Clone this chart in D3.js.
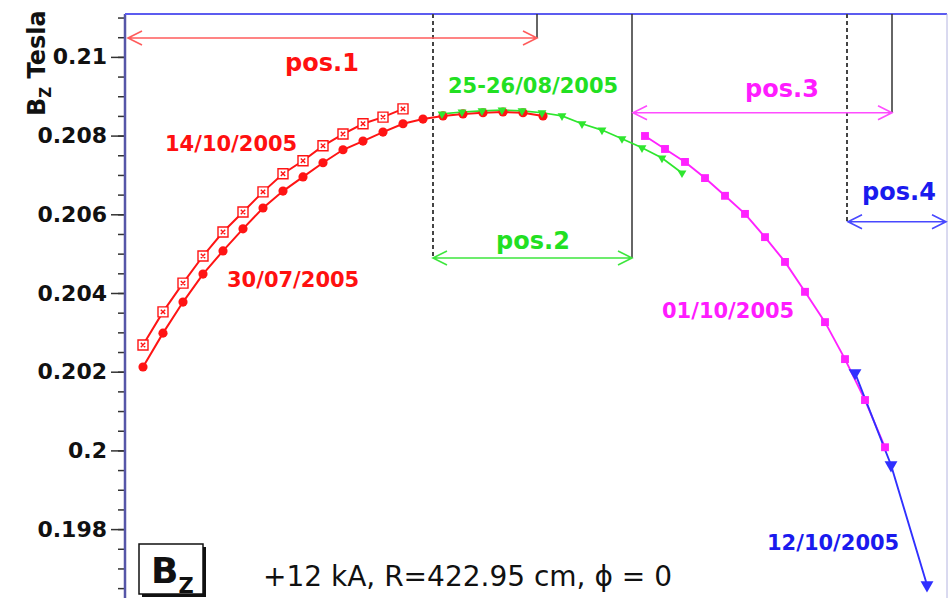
<!DOCTYPE html>
<html>
<head>
<meta charset="utf-8">
<script src="https://cdn.jsdelivr.net/npm/d3@7"></script>
<style>
  body { margin: 0; background: #fff; }
  svg { display: block; font-family: "DejaVu Sans", sans-serif; }
</style>
</head>
<body>
<div id="chart"></div>
<script>
// scan position (arbitrary units along the probe path) and measured Bz in Tesla
const red0730X = [0.9, 1.9, 2.9, 3.9, 4.9, 5.9, 6.9, 7.9, 8.9, 9.9, 10.9, 11.9, 12.9, 13.9, 14.9, 15.9, 16.9, 17.9, 18.9, 19.9, 20.9];
const red0730Bz = [0.20212, 0.20298, 0.20377, 0.20448, 0.20507, 0.20563, 0.20616, 0.20659, 0.20695, 0.20731, 0.20764,
                   0.20786, 0.20809, 0.2083, 0.20842, 0.2085, 0.20855, 0.20858, 0.2086, 0.20858, 0.2085];

const red1410X = [0.9, 1.9, 2.9, 3.9, 4.9, 5.9, 6.9, 7.9, 8.9, 9.9, 10.9, 11.9, 12.9, 13.9];
const red1410Bz = [0.20268, 0.20352, 0.20425, 0.20494, 0.20555, 0.20606, 0.20657, 0.20703, 0.20736, 0.20774,
                   0.20804, 0.2083, 0.20847, 0.20868];

const green0826X = [15.85, 16.85, 17.85, 18.85, 19.85, 20.85, 21.85, 22.85, 23.85, 24.85, 25.85, 26.85, 27.85];
const green0826Bz = [0.20855, 0.2086, 0.20863, 0.20865, 0.20863, 0.20858, 0.2085, 0.2083, 0.20814, 0.20792,
                     0.20769, 0.20743, 0.20705];

const mag1001X = [26, 27, 28, 29, 30, 31, 32, 33, 34, 35, 36, 37, 38];
const mag1001Bz = [0.20799, 0.20766, 0.20733, 0.20692, 0.20647, 0.20601, 0.20542, 0.20479, 0.20403, 0.20326,
                   0.20232, 0.20128, 0.20008];

const blue1210X = [36.5, 38.3, 40.1];
const blue1210Bz = [0.20197, 0.19963, 0.19658];

const yTickValues = [0.198, 0.2, 0.202, 0.204, 0.206, 0.208, 0.21];
const yTickLabels = ['0.198', '0.2', '0.202', '0.204', '0.206', '0.208', '0.21'];

// probe positions: span along the scan and the Bz level where the arrow sits
const posNames = ['pos.1', 'pos.2', 'pos.3', 'pos.4'];
const posStart = [0.15, 15.4, 25.4, 36.15];
const posEnd = [20.6, 25.35, 38.35, 41.05];
const posLevel = [0.21048, 0.20489, 0.20858, 0.20581];

// vertical boundary lines between positions
const edgeX = [15.4, 20.6, 25.35, 36.1, 38.35];
const edgeLevel = [0.20489, 0.21048, 0.20489, 0.20581, 0.20858];
const edgeDashed = [true, false, false, true, false];

const W = 948, H = 598;
const plot = { left: 125, right: 947, top: 14, bottom: 620 };

const x = d3.scaleLinear().domain([0, 41.1]).range([plot.left, plot.right]);
const y = d3.scaleLinear().domain([0.19569, 0.21109]).range([plot.bottom, plot.top]);

const svg = d3.select('#chart').append('svg')
  .attr('width', W)
  .attr('height', H);

svg.append('rect').attr('width', W).attr('height', H).attr('fill', '#fff');

svg.append('defs').append('clipPath').attr('id', 'plotClip')
  .append('rect')
  .attr('x', plot.left).attr('y', plot.top)
  .attr('width', plot.right - plot.left).attr('height', plot.bottom - plot.top);

// --- axis ---
const minorTicks = d3.range(0.196, 0.2111, 0.0005);

const minorAxis = svg.append('g')
  .attr('transform', `translate(${plot.left},0)`)
  .call(d3.axisLeft(y).tickValues(minorTicks).tickSize(7).tickFormat(''));
minorAxis.select('.domain').remove();
minorAxis.selectAll('line').attr('stroke', '#333').attr('stroke-width', 1.5);

const majorAxis = svg.append('g')
  .attr('transform', `translate(${plot.left},0)`)
  .call(d3.axisLeft(y).tickValues(yTickValues).tickSize(14).tickPadding(4)
    .tickFormat((d, i) => yTickLabels[i]));
majorAxis.select('.domain').remove();
majorAxis.selectAll('line').attr('stroke', '#333').attr('stroke-width', 1.5);
majorAxis.selectAll('text')
  .attr('fill', '#111')
  .style('font-size', '22px')
  .style('font-weight', 'bold')
  .style('font-family', '"DejaVu Sans", sans-serif');

// frame
svg.append('line')
  .attr('x1', plot.left).attr('x2', plot.left)
  .attr('y1', plot.top).attr('y2', H)
  .attr('stroke', '#5656a8').attr('stroke-width', 2.5);
svg.append('line')
  .attr('x1', plot.left).attr('x2', plot.right)
  .attr('y1', plot.top).attr('y2', plot.top)
  .attr('stroke', '#5c5cf0').attr('stroke-width', 2);
svg.append('line')
  .attr('x1', plot.right).attr('x2', plot.right)
  .attr('y1', plot.top).attr('y2', H)
  .attr('stroke', '#b4b4e0').attr('stroke-width', 1);

// axis title
const yTitle = svg.append('text')
  .attr('transform', 'translate(45,116) rotate(-90)')
  .attr('fill', '#111')
  .style('font-size', '24px')
  .style('font-weight', 'bold');
yTitle.append('tspan').text('B');
yTitle.append('tspan').attr('dy', 6).style('font-size', '15px').text('Z');
yTitle.append('tspan').attr('dy', -6).text(' Tesla');

// --- position boundaries and arrows ---
const guides = svg.append('g');

edgeX.forEach((ex, i) => {
  guides.append('line')
    .attr('x1', x(ex)).attr('x2', x(ex))
    .attr('y1', plot.top).attr('y2', y(edgeLevel[i]))
    .attr('stroke', edgeDashed[i] ? '#444' : '#333')
    .attr('stroke-width', edgeDashed[i] ? 2 : 1.5)
    .attr('stroke-dasharray', edgeDashed[i] ? '4,3' : null);
});

const posColors = ['#ff5c5c', '#3ee63e', '#ff4cff', '#4848ff'];
const posTextColors = ['#ff1010', '#22e022', '#ff1cff', '#1a1aee'];
const headLen = 14, headHalf = 7;

posNames.forEach((name, i) => {
  const x0 = x(posStart[i]), x1 = x(posEnd[i]), yl = y(posLevel[i]);
  guides.append('path')
    .attr('d', `M${x0},${yl}H${x1}` +
      `M${x0 + headLen},${yl - headHalf}L${x0},${yl}L${x0 + headLen},${yl + headHalf}` +
      `M${x1 - headLen},${yl - headHalf}L${x1},${yl}L${x1 - headLen},${yl + headHalf}`)
    .attr('fill', 'none')
    .attr('stroke', posColors[i])
    .attr('stroke-width', 1.6);
});

// label placement for the position names
const posLabelLayout = [
  { x: 322, y: 71 },
  { x: 533, y: 249 },
  { x: 782, y: 97 },
  { x: 899, y: 200 }
];
posNames.forEach((name, i) => {
  guides.append('text')
    .attr('x', posLabelLayout[i].x)
    .attr('y', posLabelLayout[i].y)
    .attr('text-anchor', 'middle')
    .attr('fill', posTextColors[i])
    .style('font-size', '24px')
    .style('font-weight', 'bold')
    .text(name);
});

// --- measurement series ---
const series = [
  { name: '30/07/2005', xs: red0730X, vs: red0730Bz, color: '#ff1414', marker: 'circle', width: 2 },
  { name: '14/10/2005', xs: red1410X, vs: red1410Bz, color: '#ff1414', marker: 'openSquare', width: 2 },
  { name: '25-26/08/2005', xs: green0826X, vs: green0826Bz, color: '#2ee62e', marker: 'smallTriangle', width: 1.7 },
  { name: '01/10/2005', xs: mag1001X, vs: mag1001Bz, color: '#ff22ff', marker: 'square', width: 1.9 },
  { name: '12/10/2005', xs: blue1210X, vs: blue1210Bz, color: '#3030ff', marker: 'triangle', width: 1.9 }
];

const line = d3.line()
  .x(d => x(d[0]))
  .y(d => y(d[1]));

const dataLayer = svg.append('g').attr('clip-path', 'url(#plotClip)');

series.forEach(s => {
  dataLayer.append('path')
    .datum(d3.zip(s.xs, s.vs))
    .attr('d', line)
    .attr('fill', 'none')
    .attr('stroke', s.color)
    .attr('stroke-width', s.width);
});

function markerShape(type) {
  if (type === 'circle') return d3.symbol(d3.symbolCircle, 66)();
  if (type === 'square') return d3.symbol(d3.symbolSquare, 62)();
  if (type === 'smallTriangle') return d3.symbol(d3.symbolTriangle, 34)();
  if (type === 'triangle') return d3.symbol(d3.symbolTriangle, 72)();
  // open square with a small cross inside
  return 'M-5,-5h10v10h-10z M-2.2,-2.2L2.2,2.2 M2.2,-2.2L-2.2,2.2';
}

series.forEach(s => {
  const open = s.marker === 'openSquare';
  const flip = s.marker === 'smallTriangle' || s.marker === 'triangle';
  dataLayer.append('g').selectAll('path')
    .data(d3.zip(s.xs, s.vs))
    .join('path')
    .attr('transform', d => `translate(${x(d[0])},${y(d[1])})` + (flip ? ' rotate(180)' : ''))
    .attr('d', markerShape(s.marker))
    .attr('fill', open ? '#fff' : s.color)
    .attr('stroke', open ? s.color : 'none')
    .attr('stroke-width', open ? 1.4 : 0);
});

// date labels next to their curves
const dateLabelLayout = {
  '14/10/2005': { x: 165, y: 151 },
  '30/07/2005': { x: 227, y: 287 },
  '25-26/08/2005': { x: 448, y: 93 },
  '01/10/2005': { x: 662, y: 318 },
  '12/10/2005': { x: 767, y: 550 }
};
const labelColors = {
  '14/10/2005': '#ff1010', '30/07/2005': '#ff1010', '25-26/08/2005': '#22e022',
  '01/10/2005': '#ff1cff', '12/10/2005': '#1a1aee'
};
series.forEach(s => {
  const pos = dateLabelLayout[s.name];
  svg.append('text')
    .attr('x', pos.x)
    .attr('y', pos.y)
    .attr('fill', labelColors[s.name])
    .style('font-size', '21px')
    .style('font-weight', 'bold')
    .text(s.name);
});

// --- Bz box and run conditions ---
const box = svg.append('g');
box.append('rect')
  .attr('x', 142).attr('y', 547)
  .attr('width', 64).attr('height', 50)
  .attr('fill', '#111');
box.append('rect')
  .attr('x', 139).attr('y', 544)
  .attr('width', 64).attr('height', 50)
  .attr('fill', '#fff')
  .attr('stroke', '#111')
  .attr('stroke-width', 1.5);
const boxText = box.append('text')
  .attr('x', 151).attr('y', 583)
  .attr('fill', '#111')
  .style('font-size', '36px')
  .style('font-weight', 'bold');
boxText.append('tspan').text('B');
boxText.append('tspan').attr('dy', 10).style('font-size', '21px').text('Z');

svg.append('text')
  .attr('x', 263).attr('y', 586)
  .attr('fill', '#111')
  .style('font-size', '28px')
  .text('+12 kA, R=422.95 cm, \u03d5 = 0');
</script>
</body>
</html>
